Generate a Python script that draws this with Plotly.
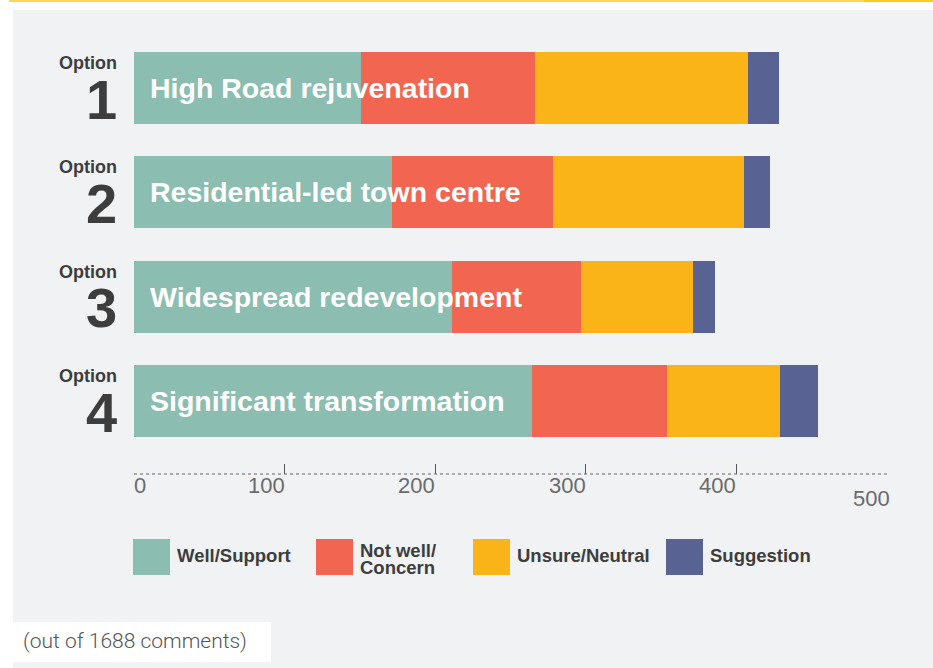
import plotly.graph_objects as go

# ---- data ----
option_numbers = ["1", "2", "3", "4"]
option_titles = ["High Road rejuvenation", "Residential-led town centre",
                 "Widespread redevelopment", "Significant transformation"]
series_names = ["Well/Support", "Not well/<br>Concern", "Unsure/Neutral", "Suggestion"]
well_support = [151, 171, 211, 264]
not_well_concern = [115, 107, 86, 90]
unsure_neutral = [142, 127, 74, 75]
suggestion = [20, 17, 15, 25]
tick_values = [0, 100, 200, 300, 400, 500]
tick_labels = ["0", "100", "200", "300", "400", "500"]
note_text = "(out of 1688 comments)"

series_values = [well_support, not_well_concern, unsure_neutral, suggestion]
series_colors = ["#8bbdb0", "#f26651", "#fab418", "#586394"]
categories = ["Option " + n for n in option_numbers]

W, H = 933, 668
FONT = "Liberation Sans, Arial, sans-serif"
DARK = "#3d3d3d"


def px_x(x):
    return x / W


def px_y(y):
    return 1 - y / H


fig = go.Figure()
for name, vals, col in zip(series_names, series_values, series_colors):
    fig.add_trace(go.Bar(
        x=vals, y=categories, orientation="h", name=name.replace("<br>", " "),
        marker=dict(color=col, line=dict(width=0)), showlegend=False,
        hoverinfo="x+name",
    ))

shapes = [
    # top yellow rule
    dict(type="rect", xref="paper", yref="paper", x0=px_x(9), x1=px_x(864),
         y0=px_y(2), y1=px_y(0), fillcolor="#fcd65a", line=dict(width=0), layer="below"),
    dict(type="rect", xref="paper", yref="paper", x0=px_x(864), x1=1,
         y0=px_y(2), y1=px_y(0), fillcolor="#f9c922", line=dict(width=0), layer="below"),
    # grey panel
    dict(type="rect", xref="paper", yref="paper", x0=px_x(13), x1=1,
         y0=0, y1=px_y(10), fillcolor="#f1f2f4", line=dict(width=0), layer="below"),
    # white note box
    dict(type="rect", xref="paper", yref="paper", x0=px_x(13), x1=px_x(271),
         y0=px_y(662), y1=px_y(622), fillcolor="#ffffff", line=dict(width=0), layer="below"),
    # dotted axis line
    dict(type="line", xref="x", yref="paper", x0=tick_values[0], x1=tick_values[-1],
         y0=px_y(474), y1=px_y(474), line=dict(color="#666666", width=1, dash="dot")),
]

annotations = []
# option labels and bar titles
for i, (num, title) in enumerate(zip(option_numbers, option_titles)):
    annotations.append(dict(text="Option", x=px_x(119), xref="paper", y=i, yref="y",
                            xanchor="right", yanchor="middle", yshift=25, showarrow=False,
                            font=dict(family=FONT, size=18, color=DARK, weight="bold")))
    annotations.append(dict(text=num, x=px_x(119), xref="paper", y=i, yref="y",
                            xanchor="right", yanchor="middle", yshift=-11, showarrow=False,
                            font=dict(family=FONT, size=56, color=DARK, weight="bold")))
    annotations.append(dict(text=title, x=0, xref="x", y=i, yref="y",
                            xanchor="left", yanchor="middle", xshift=14, showarrow=False,
                            font=dict(family=FONT, size=28.5, color="#ffffff", weight="bold")))

# tick labels
for v, lab in zip(tick_values, tick_labels):
    if v == tick_values[0]:
        xa, xs, yc = "left", -2, 485
    elif v == tick_values[-1]:
        xa, xs, yc = "right", 5, 498
    else:
        xa, xs, yc = "right", 2, 485
    annotations.append(dict(text=lab, x=v, xref="x", y=px_y(yc), yref="paper",
                            xanchor=xa, yanchor="middle", xshift=xs, showarrow=False,
                            font=dict(family=FONT, size=22, color="#6b6b6b")))

# custom legend
legend_x = [133, 316, 473, 666]
for lx, name, col in zip(legend_x, series_names, series_colors):
    shapes.append(dict(type="rect", xref="paper", yref="paper", x0=px_x(lx), x1=px_x(lx + 37),
                       y0=px_y(575), y1=px_y(539), fillcolor=col, line=dict(width=0)))
    parts = name.split("<br>")
    if len(parts) == 1:
        ys = [555]
    else:
        ys = [550, 567]
    for part, yc in zip(parts, ys):
        annotations.append(dict(text=part, x=px_x(lx + 42), xref="paper", y=px_y(yc), yref="paper",
                                xanchor="left", yanchor="middle", showarrow=False,
                                font=dict(family=FONT, size=18.5, color=DARK, weight="bold")))

# note
annotations.append(dict(text=note_text, x=px_x(21), xref="paper", y=px_y(641), yref="paper",
                        xanchor="left", yanchor="middle", showarrow=False,
                        font=dict(family="Roboto, sans-serif", size=21, color="#555555", weight=300)))

fig.update_layout(
    width=W, height=H,
    margin=dict(l=0, r=0, t=0, b=0),
    paper_bgcolor="#ffffff",
    plot_bgcolor="rgba(0,0,0,0)",
    barmode="stack",
    bargap=0.311,
    shapes=shapes,
    annotations=annotations,
    xaxis=dict(domain=[px_x(134), px_x(887)], range=[tick_values[0], tick_values[-1]],
               tickvals=tick_values, showticklabels=False, ticks="inside", ticklen=10,
               tickwidth=1, tickcolor="#555555", showgrid=False, zeroline=False,
               showline=False, anchor="y", fixedrange=True),
    yaxis=dict(domain=[px_y(474), px_y(35.75)], type="category",
               categoryorder="array", categoryarray=categories,
               range=[3.694, -0.5], showticklabels=False, ticks="", showgrid=False,
               zeroline=False, showline=False, fixedrange=True),
    font=dict(family=FONT),
)

fig.write_html("out.html", config={"displayModeBar": False},
               post_script="document.body.style.margin='0';document.body.style.padding='0';")
